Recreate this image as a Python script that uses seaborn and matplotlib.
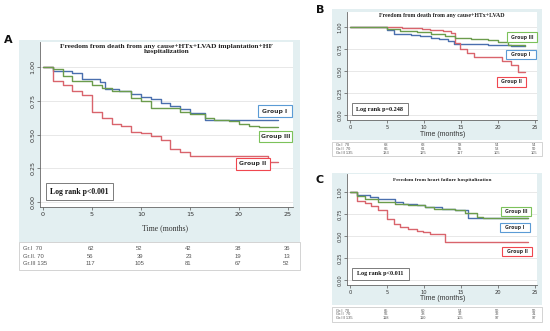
import numpy as np
import pandas as pd
import matplotlib
matplotlib.use("Agg")
import matplotlib.pyplot as plt
from matplotlib.patches import Rectangle
import seaborn as sns

# Kaplan-Meier step points (months, survival)
groups = ["Group I", "Group II", "Group III"]
row_labels = ["Gr.I  70", "Gr.II. 70", "Gr.III 135"]
row_labels_bc = ["Gr.I  70", "Gr.II  70", "Gr.III 135"]
risk_times = [5, 10, 15, 20, 25]

# Panel A: death + HTx + LVAD + HF hospitalization
a_t_g1 = [0, 1, 3, 4, 5.8, 6.3, 7.8, 9, 10, 11, 12, 13, 14, 15, 16.5, 24]
a_s_g1 = [1.0, 0.97, 0.955, 0.91, 0.89, 0.84, 0.82, 0.80, 0.78, 0.76, 0.73, 0.71, 0.69, 0.66, 0.61, 0.61]
a_t_g2 = [0, 1, 2, 3, 4, 5, 6, 7, 8, 9, 10, 11, 12, 13, 14, 15, 23, 24]
a_s_g2 = [1.0, 0.90, 0.87, 0.82, 0.79, 0.67, 0.62, 0.58, 0.56, 0.52, 0.51, 0.49, 0.46, 0.39, 0.37, 0.34, 0.30, 0.30]
a_t_g3 = [0, 1, 2, 3, 5, 6, 7, 9, 10, 11, 14, 15, 16.5, 17.5, 19, 20, 21, 22, 24]
a_s_g3 = [1.0, 0.985, 0.93, 0.90, 0.87, 0.845, 0.82, 0.77, 0.75, 0.70, 0.67, 0.65, 0.62, 0.61, 0.60, 0.58, 0.56, 0.555, 0.555]
a_risk = [[62, 52, 42, 38, 36], [56, 39, 23, 19, 13], [117, 105, 81, 67, 52]]

# Panel B: death + HTx + LVAD
b_t_g1 = [0, 5, 5.9, 8.3, 9.5, 11, 12, 13.3, 14, 18.7, 20.7, 21.8, 23.6]
b_s_g1 = [1.0, 0.965, 0.92, 0.91, 0.90, 0.88, 0.86, 0.84, 0.81, 0.80, 0.79, 0.78, 0.78]
b_t_g2 = [0, 7, 9.7, 10.8, 12.6, 13.7, 14.2, 14.9, 15.8, 16.7, 20.5, 21.8, 22.7, 23.6]
b_s_g2 = [1.0, 0.99, 0.98, 0.965, 0.95, 0.93, 0.82, 0.75, 0.71, 0.66, 0.61, 0.57, 0.49, 0.49]
b_t_g3 = [0, 2, 5, 6.8, 9, 11, 12.8, 14.2, 16.4, 18.7, 20, 21.4, 23.6]
b_s_g3 = [1.0, 0.995, 0.98, 0.96, 0.94, 0.92, 0.90, 0.88, 0.865, 0.85, 0.83, 0.80, 0.785]
b_risk = [[68, 63, 58, 54, 54], [66, 61, 55, 53, 50], [133, 125, 117, 105, 105]]

# Panel C: heart failure hospitalization
c_t_g1 = [0, 1, 2.7, 3.8, 6.1, 7.2, 9, 10.1, 11.3, 12.4, 14.2, 16, 24]
c_s_g1 = [1.0, 0.97, 0.94, 0.92, 0.89, 0.86, 0.85, 0.835, 0.83, 0.81, 0.79, 0.70, 0.70]
c_t_g2 = [0, 1, 2, 2.9, 3.8, 4.95, 6, 6.8, 7.9, 9, 9.9, 10.8, 12.8, 24]
c_s_g2 = [1.0, 0.90, 0.875, 0.84, 0.80, 0.69, 0.64, 0.60, 0.58, 0.56, 0.54, 0.52, 0.43, 0.43]
c_t_g3 = [0, 1, 2, 3.8, 6.1, 7.9, 10.1, 11.3, 14.2, 15.5, 17.1, 18, 24]
c_s_g3 = [1.0, 0.95, 0.92, 0.89, 0.86, 0.85, 0.83, 0.805, 0.79, 0.765, 0.72, 0.71, 0.71]
c_risk = [[65, 60, 54, 50, 50], [56, 38, 32, 32, 31], [118, 110, 105, 97, 97]]

palette = {"Group I": "#4a6fae", "Group II": "#d9646c", "Group III": "#6b9c4c"}
box_colors = {"Group I": "#5b9bd5", "Group II": "#f0474f", "Group III": "#7cc25a"}
BG = "#e3eff1"
W, H = 550, 331

sns.set_theme(style="white")
plt.rcParams["font.family"] = ["DejaVu Sans"]

fig = plt.figure(figsize=(W / 100, H / 100), dpi=100)
fig.patch.set_facecolor("white")


def frac(x, y, w, h):
    return [x / W, 1 - (y + h) / H, w / W, h / H]


def rect(x, y, w, h, fc="none", ec="none", lw=0.6, z=0):
    r = Rectangle((x / W, 1 - (y + h) / H), w / W, h / H, transform=fig.transFigure,
                  facecolor=fc, edgecolor=ec, linewidth=lw, zorder=z)
    fig.add_artist(r)


def km_frame(times, survs):
    parts = []
    for g, t, s in zip(groups, times, survs):
        parts.append(pd.DataFrame({"time": t, "surv": s, "group": g}))
    return pd.concat(parts, ignore_index=True)


def panel(box, white, x0, x25, y1, y0, times, survs, risk, labels, title, tsize,
          logrank, lr_box, lr_size, leg_boxes, leg_size, tick_size, xlab_font, xlab_size,
          xlab_y, table_box, table_rows, table_size, letter, letter_xy):
    bx, by, bw, bh = box
    rect(bx, by, bw, bh, fc=BG, z=0)
    wx, wy, ww, wh = white
    ax = fig.add_axes(frac(wx, wy, ww, wh))
    ax.set_facecolor("white")
    ppm = (x25 - x0) / 25.0
    ax.set_xlim((wx - x0) / ppm, (wx + ww - x0) / ppm)
    ppu = y0 - y1
    ax.set_ylim(-(wy + wh - y0) / ppu, 1 + (y1 - wy) / ppu)

    df = km_frame(times, survs)
    sns.lineplot(data=df, x="time", y="surv", hue="group", hue_order=groups,
                 palette=palette, drawstyle="steps-post", estimator=None, sort=False,
                 legend=False, lw=1.0, ax=ax, zorder=3)

    ax.set_xticks([0, 5, 10, 15, 20, 25])
    ax.set_yticks([0, 0.25, 0.5, 0.75, 1.0])
    ax.set_yticklabels(["0.00", "0.25", "0.50", "0.75", "1.00"], rotation=90, va="center")
    ax.tick_params(axis="both", length=2, width=0.5, color="#555555", labelsize=tick_size,
                   labelcolor="#333333", pad=1.5, bottom=True, left=True)
    ax.yaxis.grid(True, color="#e4e4e4", lw=0.6)
    ax.xaxis.grid(False)
    for s in ["top", "right"]:
        ax.spines[s].set_visible(False)
    for s in ["left", "bottom"]:
        ax.spines[s].set_color("#666666")
        ax.spines[s].set_linewidth(0.6)
    ax.set_xlabel("")
    ax.set_ylabel("")

    # title inside plot region
    fig.text((wx + ww / 2) / W, 1 - title[1] / H, title[0], ha="center", va="top",
             fontsize=tsize, fontweight="bold", family="Liberation Serif", color="#222222",
             linespacing=1.05)
    # x label
    fig.text((x0 + x25) / 2 / W, 1 - xlab_y / H, "Time (months)", ha="center", va="center",
             fontsize=xlab_size, family=xlab_font, color="#333333")

    # log rank box
    lx, ly, lw_, lh = lr_box
    rect(lx, ly, lw_, lh, fc="white", ec="#666666", lw=0.6, z=4)
    fig.text((lx + lw_ / 2) / W, 1 - (ly + lh / 2) / H, logrank, ha="center", va="center",
             fontsize=lr_size, fontweight="bold", family="Liberation Serif", color="#111111",
             zorder=5)

    # group labels
    for g, (gx, gy, gw, gh) in leg_boxes.items():
        rect(gx, gy, gw, gh, fc="white", ec=box_colors[g], lw=0.8, z=4)
        fig.text((gx + gw / 2) / W, 1 - (gy + gh / 2) / H, g, ha="center", va="center",
                 fontsize=leg_size, color="#333333", fontweight="semibold", zorder=5)

    # number at risk table
    tx, ty, tw, th = table_box
    rect(tx, ty, tw, th, fc="white", ec="#cccccc", lw=0.6, z=1)
    for lab, vals, ry in zip(labels, risk, table_rows):
        fig.text((tx + 4) / W, 1 - ry / H, lab, ha="left", va="center", zorder=5,
                 fontsize=table_size, color="#555555", family="Liberation Sans")
        for t, v in zip(risk_times, vals):
            fig.text((x0 + (t - 0.15) * ppm) / W, 1 - ry / H, str(v), ha="center",
                     va="center", fontsize=table_size, color="#555555",
                     family="Liberation Sans", zorder=5)

    fig.text(letter_xy[0] / W, 1 - letter_xy[1] / H, letter, ha="center", va="center",
             fontsize=8, fontweight="bold", color="#111111")
    return ax


panel(box=(19, 40, 281, 202), white=(40, 42, 253, 165), x0=43, x25=288, y1=67, y0=202,
      times=[a_t_g1, a_t_g2, a_t_g3], survs=[a_s_g1, a_s_g2, a_s_g3], risk=a_risk,
      labels=row_labels,
      title=("Freedom from death from any cause+HTx+LVAD implantation+HF\nhospitalization", 44),
      tsize=5.3, logrank="Log rank p<0.001", lr_box=(46, 183, 67, 17), lr_size=5.6,
      leg_boxes={"Group I": (258, 105, 34, 12), "Group III": (259, 131, 33, 11),
                 "Group II": (236, 158, 34, 12)},
      leg_size=4.4, tick_size=4.6, xlab_font="Liberation Serif", xlab_size=5.6, xlab_y=228,
      table_box=(19, 242, 281, 28), table_rows=[248.5, 256, 263.5], table_size=4.2,
      letter="A", letter_xy=(8, 40))

panel(box=(332, 9, 210, 131), white=(347, 12, 190, 108), x0=350, x25=535, y1=27, y0=115,
      times=[b_t_g1, b_t_g2, b_t_g3], survs=[b_s_g1, b_s_g2, b_s_g3], risk=b_risk,
      labels=row_labels_bc,
      title=("Freedom from death from any cause+HTx+LVAD", 13),
      tsize=4.2, logrank="Log rank p=0.248", lr_box=(352, 103, 56, 12), lr_size=4.4,
      leg_boxes={"Group III": (507, 32, 30, 10), "Group I": (506, 50, 30, 9),
                 "Group II": (497, 77, 29, 10)},
      leg_size=3.3, tick_size=3.7, xlab_font="Liberation Sans", xlab_size=5.0, xlab_y=134,
      table_box=(332, 142, 210, 14), table_rows=[145.3, 149, 152.7], table_size=2.9,
      letter="B", letter_xy=(320, 10))

panel(box=(332, 173, 210, 132), white=(347, 174, 190, 111), x0=350, x25=535, y1=192, y0=280,
      times=[c_t_g1, c_t_g2, c_t_g3], survs=[c_s_g1, c_s_g2, c_s_g3], risk=c_risk,
      labels=row_labels_bc,
      title=("Freedom from heart failure hospitalization", 178),
      tsize=3.9, logrank="Log rank p<0.011", lr_box=(352, 268, 57, 12), lr_size=4.4,
      leg_boxes={"Group III": (501, 207, 30, 9), "Group I": (500, 223, 30, 9),
                 "Group II": (502, 247, 30, 9)},
      leg_size=3.3, tick_size=3.7, xlab_font="Liberation Sans", xlab_size=5.0, xlab_y=299,
      table_box=(332, 307, 210, 15), table_rows=[311, 314.3, 317.6], table_size=2.9,
      letter="C", letter_xy=(320, 180))

fig.savefig("out.png", dpi=100, facecolor="white")
